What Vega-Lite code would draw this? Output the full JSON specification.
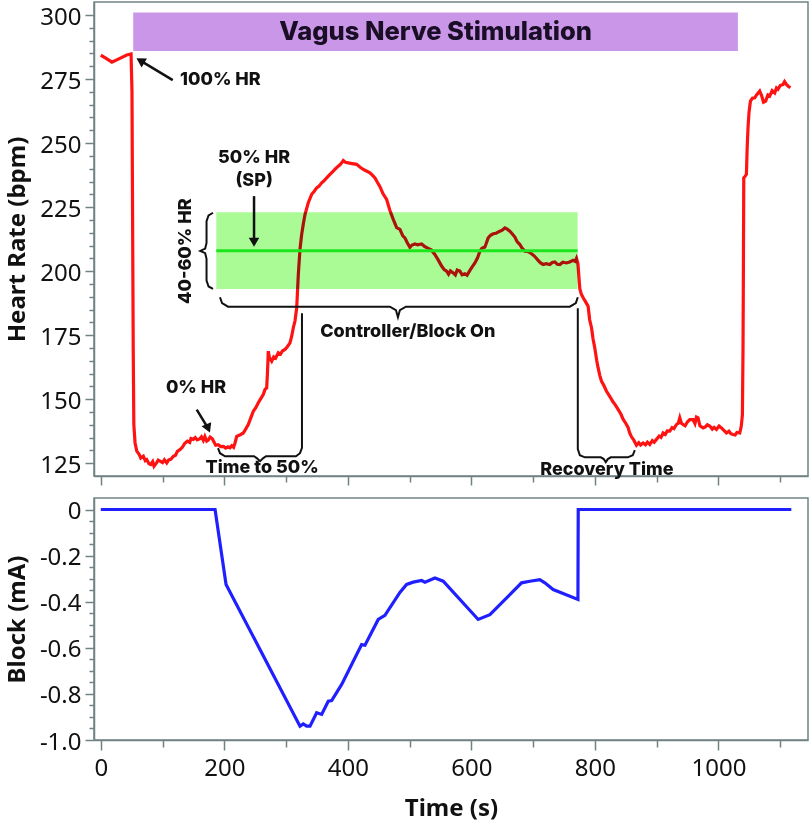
{
  "$schema": "https://vega.github.io/schema/vega-lite/v6.json",
  "padding": {"left": 4, "top": 1, "right": 0, "bottom": 6},
  "spacing": 22,
  "bounds": "flush",
  "config": {
    "view": {"stroke": "#708282", "strokeWidth": 1.5},
    "axis": {
      "grid": false,
      "domainColor": "#708282",
      "domainWidth": 1.5,
      "tickColor": "#708282",
      "tickWidth": 1.5,
      "labelFont": "Noto Sans",
      "labelFontSize": 24,
      "labelColor": "#111111",
      "titleFont": "Noto Sans",
      "titleFontSize": 24,
      "titleFontWeight": "bold",
      "titleColor": "#111111"
    },
    "text": {"font": "Inter", "fontWeight": 800, "fontSize": 18, "color": "#111111"}
  },
  "datasets": {
    "heart_rate": [
      {"t": 0, "hr": 284.3}, {"t": 8, "hr": 283.2}, {"t": 18, "hr": 281.6}, {"t": 30, "hr": 283.0},
      {"t": 42, "hr": 284.4}, {"t": 49, "hr": 284.8}, {"t": 50.5, "hr": 270}, {"t": 51.5, "hr": 220},
      {"t": 52.5, "hr": 170}, {"t": 53.5, "hr": 140}, {"t": 55.5, "hr": 132.9}, {"t": 58.3, "hr": 129.7},
      {"t": 62, "hr": 128.5}, {"t": 64.7, "hr": 127.0}, {"t": 68.9, "hr": 127.7}, {"t": 72, "hr": 126.0},
      {"t": 74.4, "hr": 126.4}, {"t": 78, "hr": 124.8}, {"t": 80.9, "hr": 124.5}, {"t": 84, "hr": 125.6},
      {"t": 86.2, "hr": 123.8}, {"t": 90, "hr": 125.0}, {"t": 93, "hr": 126.2}, {"t": 96, "hr": 125.8},
      {"t": 100, "hr": 125.2}, {"t": 103, "hr": 126.3}, {"t": 106.8, "hr": 125.1}, {"t": 110, "hr": 126.3},
      {"t": 113.3, "hr": 126.5}, {"t": 117.5, "hr": 127.7}, {"t": 121, "hr": 128.1}, {"t": 124, "hr": 129.6},
      {"t": 128.3, "hr": 130.3}, {"t": 132, "hr": 131.2}, {"t": 136, "hr": 132.8}, {"t": 140.1, "hr": 133.6},
      {"t": 144, "hr": 133.1}, {"t": 146, "hr": 134.6}, {"t": 149.8, "hr": 134.3}, {"t": 153, "hr": 135.0},
      {"t": 156, "hr": 134.1}, {"t": 160.7, "hr": 134.6}, {"t": 163, "hr": 135.3}, {"t": 166, "hr": 133.9},
      {"t": 168.5, "hr": 135.4}, {"t": 171.5, "hr": 133.6}, {"t": 174, "hr": 134.0}, {"t": 177, "hr": 135.2},
      {"t": 180.6, "hr": 134.5}, {"t": 183, "hr": 133.4}, {"t": 186.1, "hr": 132.0}, {"t": 190, "hr": 132.2},
      {"t": 194, "hr": 131.5}, {"t": 198.4, "hr": 131.6}, {"t": 202, "hr": 130.9}, {"t": 206, "hr": 131.4},
      {"t": 209.2, "hr": 131.0}, {"t": 212, "hr": 131.8}, {"t": 215, "hr": 131.2}, {"t": 217.3, "hr": 132.9},
      {"t": 220.1, "hr": 135.5}, {"t": 225, "hr": 136.0}, {"t": 230.7, "hr": 136.8}, {"t": 235, "hr": 138.5},
      {"t": 238.8, "hr": 140.1}, {"t": 243, "hr": 142.8}, {"t": 247, "hr": 145.3}, {"t": 251, "hr": 146.7},
      {"t": 255, "hr": 148.6}, {"t": 259, "hr": 150.2}, {"t": 263, "hr": 151.8}, {"t": 266, "hr": 153.9},
      {"t": 268.6, "hr": 154.4}, {"t": 270, "hr": 161}, {"t": 271.2, "hr": 168.75}, {"t": 273, "hr": 166.2},
      {"t": 276.7, "hr": 164.8}, {"t": 280, "hr": 166.5}, {"t": 283, "hr": 166.0}, {"t": 287.4, "hr": 168.1},
      {"t": 291, "hr": 167.6}, {"t": 294, "hr": 168.8}, {"t": 298.2, "hr": 169.4}, {"t": 302, "hr": 170.5},
      {"t": 306.3, "hr": 172.0}, {"t": 309, "hr": 174.5}, {"t": 311.7, "hr": 177.9}, {"t": 314.4, "hr": 180.5},
      {"t": 317.2, "hr": 185.7}, {"t": 319.8, "hr": 198.7}, {"t": 322.5, "hr": 208.5}, {"t": 325.2, "hr": 214.3},
      {"t": 328, "hr": 218.6}, {"t": 330.6, "hr": 222.1}, {"t": 335.9, "hr": 226.7}, {"t": 341.4, "hr": 230.0},
      {"t": 345, "hr": 231.0}, {"t": 349.5, "hr": 232.5}, {"t": 353, "hr": 233.1}, {"t": 357.6, "hr": 234.5},
      {"t": 361, "hr": 235.2}, {"t": 365.7, "hr": 236.4}, {"t": 371, "hr": 237.8}, {"t": 376.4, "hr": 239.1},
      {"t": 380, "hr": 240.0}, {"t": 384.5, "hr": 241.0}, {"t": 388, "hr": 241.7}, {"t": 392.6, "hr": 243.2},
      {"t": 396, "hr": 242.5}, {"t": 400.6, "hr": 242.3}, {"t": 407, "hr": 242.0}, {"t": 414.2, "hr": 241.7},
      {"t": 420, "hr": 240.6}, {"t": 425, "hr": 239.7}, {"t": 430, "hr": 239.1}, {"t": 435.8, "hr": 238.4},
      {"t": 440, "hr": 237.4}, {"t": 443.9, "hr": 236.4}, {"t": 448, "hr": 234.6}, {"t": 452, "hr": 233.0},
      {"t": 457, "hr": 230.2}, {"t": 462.8, "hr": 228.0}, {"t": 468, "hr": 223.8}, {"t": 473.5, "hr": 220.2},
      {"t": 479, "hr": 217.0}, {"t": 484.3, "hr": 216.3}, {"t": 489, "hr": 213.8}, {"t": 492.4, "hr": 213.0},
      {"t": 496, "hr": 211.2}, {"t": 500.5, "hr": 209.3}, {"t": 504, "hr": 210.2}, {"t": 508.6, "hr": 210.6},
      {"t": 513, "hr": 210.3}, {"t": 519.4, "hr": 210.6}, {"t": 524, "hr": 209.7}, {"t": 530.1, "hr": 208.9},
      {"t": 535, "hr": 208.3}, {"t": 540.9, "hr": 206.5}, {"t": 546, "hr": 204.5}, {"t": 551.8, "hr": 202.0},
      {"t": 556, "hr": 200.6}, {"t": 559.9, "hr": 200.0}, {"t": 563, "hr": 198.8}, {"t": 566, "hr": 200.1},
      {"t": 570.6, "hr": 199.3}, {"t": 574, "hr": 198.5}, {"t": 577, "hr": 200.4}, {"t": 581.4, "hr": 200.0},
      {"t": 585, "hr": 198.6}, {"t": 589.5, "hr": 199.0}, {"t": 593, "hr": 198.4}, {"t": 597.6, "hr": 200.3},
      {"t": 601, "hr": 201.6}, {"t": 605.7, "hr": 203.2}, {"t": 610, "hr": 205.2}, {"t": 613.8, "hr": 207.8},
      {"t": 617, "hr": 208.9}, {"t": 621.8, "hr": 209.4}, {"t": 624, "hr": 210.8}, {"t": 627.2, "hr": 213.0},
      {"t": 631, "hr": 214.0}, {"t": 635.3, "hr": 214.6}, {"t": 640, "hr": 214.8}, {"t": 646.1, "hr": 215.6},
      {"t": 650, "hr": 216.0}, {"t": 654.2, "hr": 216.9}, {"t": 658, "hr": 216.4}, {"t": 662.3, "hr": 215.6},
      {"t": 666, "hr": 214.6}, {"t": 670.4, "hr": 213.3}, {"t": 674, "hr": 211.5}, {"t": 678.5, "hr": 210.4},
      {"t": 682, "hr": 209.0}, {"t": 686.6, "hr": 207.8}, {"t": 692, "hr": 207.6}, {"t": 697.4, "hr": 206.8},
      {"t": 702, "hr": 205.9}, {"t": 708.1, "hr": 204.2}, {"t": 712, "hr": 203.2}, {"t": 716.2, "hr": 202.6},
      {"t": 721, "hr": 202.9}, {"t": 727, "hr": 202.6}, {"t": 731, "hr": 203.4}, {"t": 735.1, "hr": 203.6},
      {"t": 739, "hr": 202.7}, {"t": 743.2, "hr": 202.6}, {"t": 748, "hr": 203.5}, {"t": 754, "hr": 203.2},
      {"t": 759, "hr": 203.6}, {"t": 764.7, "hr": 204.2}, {"t": 768, "hr": 203.8}, {"t": 770.2, "hr": 205.0},
      {"t": 772.5, "hr": 203.0}, {"t": 775.6, "hr": 193.0}, {"t": 778, "hr": 191.0}, {"t": 781, "hr": 189.6},
      {"t": 785, "hr": 188.0}, {"t": 789, "hr": 186.3}, {"t": 791.5, "hr": 181.0}, {"t": 794.5, "hr": 177.9},
      {"t": 797, "hr": 173.5}, {"t": 799.8, "hr": 170.0}, {"t": 803, "hr": 165.0}, {"t": 805.2, "hr": 162.2},
      {"t": 808, "hr": 159.2}, {"t": 810.7, "hr": 157.0}, {"t": 814, "hr": 155.6}, {"t": 818.8, "hr": 153.1},
      {"t": 823, "hr": 151.5}, {"t": 829.5, "hr": 148.9}, {"t": 833, "hr": 147.8}, {"t": 837.5, "hr": 146.0},
      {"t": 842, "hr": 144.2}, {"t": 845.6, "hr": 142.2}, {"t": 849, "hr": 141.0}, {"t": 853.7, "hr": 139.0},
      {"t": 856, "hr": 137.0}, {"t": 859.2, "hr": 135.3}, {"t": 863, "hr": 134.0}, {"t": 867.3, "hr": 132.0},
      {"t": 871, "hr": 133.0}, {"t": 874, "hr": 132.1}, {"t": 878, "hr": 132.9}, {"t": 882, "hr": 132.2},
      {"t": 885, "hr": 133.2}, {"t": 888.8, "hr": 132.3}, {"t": 893, "hr": 133.8}, {"t": 896, "hr": 133.2},
      {"t": 899.7, "hr": 134.3}, {"t": 904, "hr": 135.6}, {"t": 907, "hr": 135.1}, {"t": 910.4, "hr": 136.8},
      {"t": 914, "hr": 136.2}, {"t": 917, "hr": 137.6}, {"t": 921.2, "hr": 137.5}, {"t": 925, "hr": 138.9},
      {"t": 928, "hr": 138.5}, {"t": 932, "hr": 140.1}, {"t": 935, "hr": 140.6}, {"t": 937.4, "hr": 142.7},
      {"t": 940, "hr": 140.6}, {"t": 942.7, "hr": 140.1}, {"t": 946, "hr": 139.6}, {"t": 950, "hr": 141.2},
      {"t": 953.6, "hr": 142.0}, {"t": 958.9, "hr": 142.0}, {"t": 962, "hr": 140.5}, {"t": 964.4, "hr": 143.0},
      {"t": 967, "hr": 142.7}, {"t": 970, "hr": 139.6}, {"t": 975.1, "hr": 138.8}, {"t": 979, "hr": 139.2},
      {"t": 982, "hr": 140.0}, {"t": 985.9, "hr": 139.5}, {"t": 990, "hr": 138.3}, {"t": 993, "hr": 139.0},
      {"t": 996.8, "hr": 138.2}, {"t": 1001, "hr": 139.5}, {"t": 1004.9, "hr": 138.8}, {"t": 1008, "hr": 138.0},
      {"t": 1013, "hr": 136.8}, {"t": 1017, "hr": 137.5}, {"t": 1020, "hr": 136.5}, {"t": 1023.6, "hr": 136.2},
      {"t": 1027, "hr": 136.0}, {"t": 1030, "hr": 137.0}, {"t": 1034.5, "hr": 136.8}, {"t": 1037, "hr": 139.5},
      {"t": 1038.8, "hr": 144.0}, {"t": 1039.8, "hr": 170}, {"t": 1040.5, "hr": 205}, {"t": 1041, "hr": 236.4},
      {"t": 1043, "hr": 237.0}, {"t": 1045.3, "hr": 237.8}, {"t": 1046.5, "hr": 248}, {"t": 1047.9, "hr": 256.0},
      {"t": 1049.5, "hr": 262}, {"t": 1051.8, "hr": 266.4}, {"t": 1055, "hr": 267.5}, {"t": 1058.7, "hr": 267.7},
      {"t": 1062, "hr": 268.9}, {"t": 1066.8, "hr": 270.3}, {"t": 1070, "hr": 268.5}, {"t": 1073, "hr": 266.0},
      {"t": 1076.5, "hr": 266.4}, {"t": 1080, "hr": 268.8}, {"t": 1083, "hr": 268.4}, {"t": 1087, "hr": 270.5},
      {"t": 1091.1, "hr": 269.6}, {"t": 1094, "hr": 271.5}, {"t": 1096.4, "hr": 271.0}, {"t": 1100, "hr": 272.5},
      {"t": 1104.5, "hr": 272.9}, {"t": 1107, "hr": 274.0}, {"t": 1110, "hr": 272.9}, {"t": 1113, "hr": 272.2},
      {"t": 1116.5, "hr": 271.6}
    ],
    "block": [
      {"t": 0, "ma": 0}, {"t": 185, "ma": 0}, {"t": 202.8, "ma": -0.325}, {"t": 322.5, "ma": -0.94},
      {"t": 327.9, "ma": -0.93}, {"t": 333.3, "ma": -0.94}, {"t": 338.7, "ma": -0.94}, {"t": 349.5, "ma": -0.882},
      {"t": 357.6, "ma": -0.889}, {"t": 368.3, "ma": -0.832}, {"t": 373.8, "ma": -0.829}, {"t": 390, "ma": -0.759},
      {"t": 422.3, "ma": -0.586}, {"t": 427.7, "ma": -0.589}, {"t": 449.2, "ma": -0.477}, {"t": 460, "ma": -0.459},
      {"t": 484.3, "ma": -0.36}, {"t": 495.1, "ma": -0.325}, {"t": 505.8, "ma": -0.315}, {"t": 519.4, "ma": -0.308},
      {"t": 524.8, "ma": -0.315}, {"t": 541, "ma": -0.297}, {"t": 554.4, "ma": -0.311}, {"t": 611, "ma": -0.477},
      {"t": 630, "ma": -0.456}, {"t": 681.2, "ma": -0.318}, {"t": 694.7, "ma": -0.311}, {"t": 710.8, "ma": -0.304},
      {"t": 718.9, "ma": -0.318}, {"t": 732.4, "ma": -0.347}, {"t": 772.5, "ma": -0.39}, {"t": 773, "ma": 0},
      {"t": 1118, "ma": 0}
    ],
    "stimulation": [{"t": 52.5, "t2": 1031.5, "hr": 286, "hr2": 301, "label": "Vagus Nerve Stimulation", "tc": 542, "hc": 293.5}],
    "band": [{"t": 187, "t2": 772, "hr": 193, "hr2": 223}],
    "setpoint": [{"t": 187, "t2": 772, "hr": 208}],
    "braces": [
      {"id": "controller", "i": 0, "t": 193.0, "hr": 189.8}, {"id": "controller", "i": 1, "t": 196.3, "hr": 187.5},
      {"id": "controller", "i": 2, "t": 206, "hr": 186.1}, {"id": "controller", "i": 3, "t": 468.1, "hr": 186.1},
      {"id": "controller", "i": 4, "t": 477.8, "hr": 184.8}, {"id": "controller", "i": 5, "t": 481.1, "hr": 182.0},
      {"id": "controller", "i": 6, "t": 484.3, "hr": 184.8}, {"id": "controller", "i": 7, "t": 494, "hr": 186.1},
      {"id": "controller", "i": 8, "t": 759.4, "hr": 186.1}, {"id": "controller", "i": 9, "t": 769.1, "hr": 187.5},
      {"id": "controller", "i": 10, "t": 772.3, "hr": 189.8},
      {"id": "time50", "i": 0, "t": 325.7, "hr": 183.6}, {"id": "time50", "i": 1, "t": 325.7, "hr": 131.0},
      {"id": "time50", "i": 2, "t": 322.5, "hr": 128.9}, {"id": "time50", "i": 3, "t": 316, "hr": 127.7},
      {"id": "time50", "i": 4, "t": 267.5, "hr": 127.7}, {"id": "time50", "i": 5, "t": 262.6, "hr": 126.9},
      {"id": "time50", "i": 6, "t": 257.8, "hr": 125.8}, {"id": "time50", "i": 7, "t": 253, "hr": 126.9},
      {"id": "time50", "i": 8, "t": 248.1, "hr": 127.7}, {"id": "time50", "i": 9, "t": 201.1, "hr": 127.7},
      {"id": "time50", "i": 10, "t": 193, "hr": 128.9}, {"id": "time50", "i": 11, "t": 189.8, "hr": 130.9},
      {"id": "recovery", "i": 0, "t": 772.3, "hr": 185.5}, {"id": "recovery", "i": 1, "t": 772.3, "hr": 130.5},
      {"id": "recovery", "i": 2, "t": 775.6, "hr": 128.1}, {"id": "recovery", "i": 3, "t": 783.7, "hr": 127.3},
      {"id": "recovery", "i": 4, "t": 809.6, "hr": 127.3}, {"id": "recovery", "i": 5, "t": 814.4, "hr": 126.6},
      {"id": "recovery", "i": 6, "t": 817.6, "hr": 125.4}, {"id": "recovery", "i": 7, "t": 820.9, "hr": 126.6},
      {"id": "recovery", "i": 8, "t": 825.7, "hr": 127.3}, {"id": "recovery", "i": 9, "t": 853.2, "hr": 127.3},
      {"id": "recovery", "i": 10, "t": 861.3, "hr": 128.1}, {"id": "recovery", "i": 11, "t": 864.6, "hr": 130.1},
      {"id": "range", "i": 0, "t": 181.7, "hr": 222.8}, {"id": "range", "i": 1, "t": 174.5, "hr": 221.8},
      {"id": "range", "i": 2, "t": 171.2, "hr": 219.5}, {"id": "range", "i": 3, "t": 171.2, "hr": 211},
      {"id": "range", "i": 4, "t": 169, "hr": 208.8}, {"id": "range", "i": 5, "t": 161, "hr": 207.9},
      {"id": "range", "i": 6, "t": 169, "hr": 207}, {"id": "range", "i": 7, "t": 171.2, "hr": 204.8},
      {"id": "range", "i": 8, "t": 171.2, "hr": 196.3}, {"id": "range", "i": 9, "t": 174.5, "hr": 194},
      {"id": "range", "i": 10, "t": 181.7, "hr": 193.1}
    ],
    "arrow_shafts": [
      {"t": 116.5, "hr": 274.6, "t2": 64.1, "hr2": 282.2},
      {"t": 248.1, "hr": 229.3, "t2": 248.1, "hr2": 211.3},
      {"t": 155.3, "hr": 145.9, "t2": 173.8, "hr2": 138.6}
    ],
    "arrow_heads": [
      {"t": 64.1, "hr": 282.2, "dir": 301},
      {"t": 248.1, "hr": 211.3, "dir": 180},
      {"t": 173.8, "hr": 138.6, "dir": 157}
    ],
    "notes_center": [
      {"t": 248.2, "hr": 244.1, "label": "50% HR"},
      {"t": 248.2, "hr": 235.2, "label": "(SP)"},
      {"t": 154.2, "hr": 154.3, "label": "0% HR"},
      {"t": 497, "hr": 176.4, "label": "Controller/Block On"},
      {"t": 261.3, "hr": 123.2, "label": "Time to 50%"},
      {"t": 819.3, "hr": 122.5, "label": "Recovery Time"}
    ],
    "notes_left": [{"t": 128.3, "hr": 274.6, "label": "100% HR"}],
    "notes_vertical": [{"t": 138, "hr": 207.8, "label": "40-60% HR"}]
  },
  "vconcat": [
    {
      "width": 714,
      "height": 474,
      "encoding": {
        "x": {
          "field": "t", "type": "quantitative",
          "scale": {"domain": [-11, 1145], "nice": false, "zero": false},
          "axis": {
            "values": [0, 100, 200, 300, 400, 500, 600, 700, 800, 900, 1000, 1100],
            "labels": false, "title": null,
            "tickSize": {"condition": {"test": "datum.value % 200 === 0", "value": 9}, "value": 6}
          }
        },
        "y": {
          "field": "hr", "type": "quantitative",
          "scale": {"domain": [120, 305.1], "nice": false, "zero": false},
          "axis": {
            "title": "Heart Rate (bpm)",
            "titlePadding": 10,
            "labelPadding": 4,
            "labelOffset": 2,
            "values": [125, 130, 135, 140, 145, 150, 155, 160, 165, 170, 175, 180, 185, 190, 195, 200, 205, 210, 215, 220, 225, 230, 235, 240, 245, 250, 255, 260, 265, 270, 275, 280, 285, 290, 295, 300],
            "labelExpr": "datum.value % 25 === 0 ? datum.label : ''",
            "tickSize": {"condition": {"test": "datum.value % 25 === 0", "value": 9}, "value": 5}
          }
        }
      },
      "layer": [
        {
          "data": {"name": "stimulation"},
          "mark": {"type": "rect", "color": "#c996e8"},
          "encoding": {"x2": {"field": "t2"}, "y2": {"field": "hr2"}}
        },
        {
          "data": {"name": "stimulation"},
          "mark": {"type": "text", "fontSize": 25.5, "color": "#1a0d26", "baseline": "middle"},
          "encoding": {"x": {"field": "tc", "type": "quantitative"}, "y": {"field": "hc", "type": "quantitative"}, "text": {"field": "label"}}
        },
        {
          "data": {"name": "heart_rate"},
          "mark": {"type": "line", "color": "#ff1212", "strokeWidth": 3.2},
          "encoding": {}
        },
        {
          "data": {"name": "band"},
          "mark": {"type": "rect", "color": "#aafa96", "blend": "multiply"},
          "encoding": {"x2": {"field": "t2"}, "y2": {"field": "hr2"}}
        },
        {
          "data": {"name": "setpoint"},
          "mark": {"type": "rule", "color": "#1ee61e", "strokeWidth": 3},
          "encoding": {"x2": {"field": "t2"}}
        },
        {
          "data": {"name": "braces"},
          "mark": {"type": "line", "color": "#111111", "strokeWidth": 2},
          "encoding": {"detail": {"field": "id"}, "order": {"field": "i", "type": "quantitative"}}
        },
        {
          "data": {"name": "arrow_shafts"},
          "mark": {"type": "rule", "color": "#111111", "strokeWidth": 2.5},
          "encoding": {"x2": {"field": "t2"}, "y2": {"field": "hr2"}}
        },
        {
          "data": {"name": "arrow_heads"},
          "mark": {"type": "point", "shape": "triangle-up", "filled": true, "color": "#111111", "size": 110, "opacity": 1},
          "encoding": {"angle": {"field": "dir", "type": "quantitative", "scale": null}}
        },
        {
          "data": {"name": "notes_center"},
          "mark": {"type": "text", "align": "center", "baseline": "middle"},
          "encoding": {"text": {"field": "label"}}
        },
        {
          "data": {"name": "notes_left"},
          "mark": {"type": "text", "align": "left", "baseline": "middle"},
          "encoding": {"text": {"field": "label"}}
        },
        {
          "data": {"name": "notes_vertical"},
          "mark": {"type": "text", "align": "center", "baseline": "middle", "angle": 270},
          "encoding": {"text": {"field": "label"}}
        }
      ]
    },
    {
      "width": 714,
      "height": 242,
      "data": {"name": "block"},
      "mark": {"type": "line", "color": "#1f1fff", "strokeWidth": 3.2},
      "encoding": {
        "x": {
          "field": "t", "type": "quantitative",
          "scale": {"domain": [-11, 1145], "nice": false, "zero": false},
          "axis": {
            "title": "Time (s)",
            "titlePadding": 16,
            "labelPadding": 6,
            "format": "d",
            "values": [0, 100, 200, 300, 400, 500, 600, 700, 800, 900, 1000, 1100],
            "labelExpr": "datum.value % 200 === 0 ? datum.label : ''",
            "tickSize": {"condition": {"test": "datum.value % 200 === 0", "value": 10}, "value": 7}
          }
        },
        "y": {
          "field": "ma", "type": "quantitative",
          "scale": {"domain": [-1.0, 0.05], "nice": false, "zero": false},
          "axis": {
            "title": "Block (mA)",
            "titlePadding": 10,
            "labelPadding": 4,
            "labelOffset": 2,
            "values": [0, -0.05, -0.1, -0.15, -0.2, -0.25, -0.3, -0.35, -0.4, -0.45, -0.5, -0.55, -0.6, -0.65, -0.7, -0.75, -0.8, -0.85, -0.9, -0.95, -1.0],
            "labelExpr": "abs(round(datum.value * 20)) % 4 === 0 ? (abs(datum.value) < 0.001 ? '0' : '-' + format(abs(datum.value), '.1f')) : ''",
            "tickSize": {"condition": {"test": "abs(round(datum.value * 20)) % 4 === 0", "value": 9}, "value": 5}
          }
        }
      }
    }
  ]
}
